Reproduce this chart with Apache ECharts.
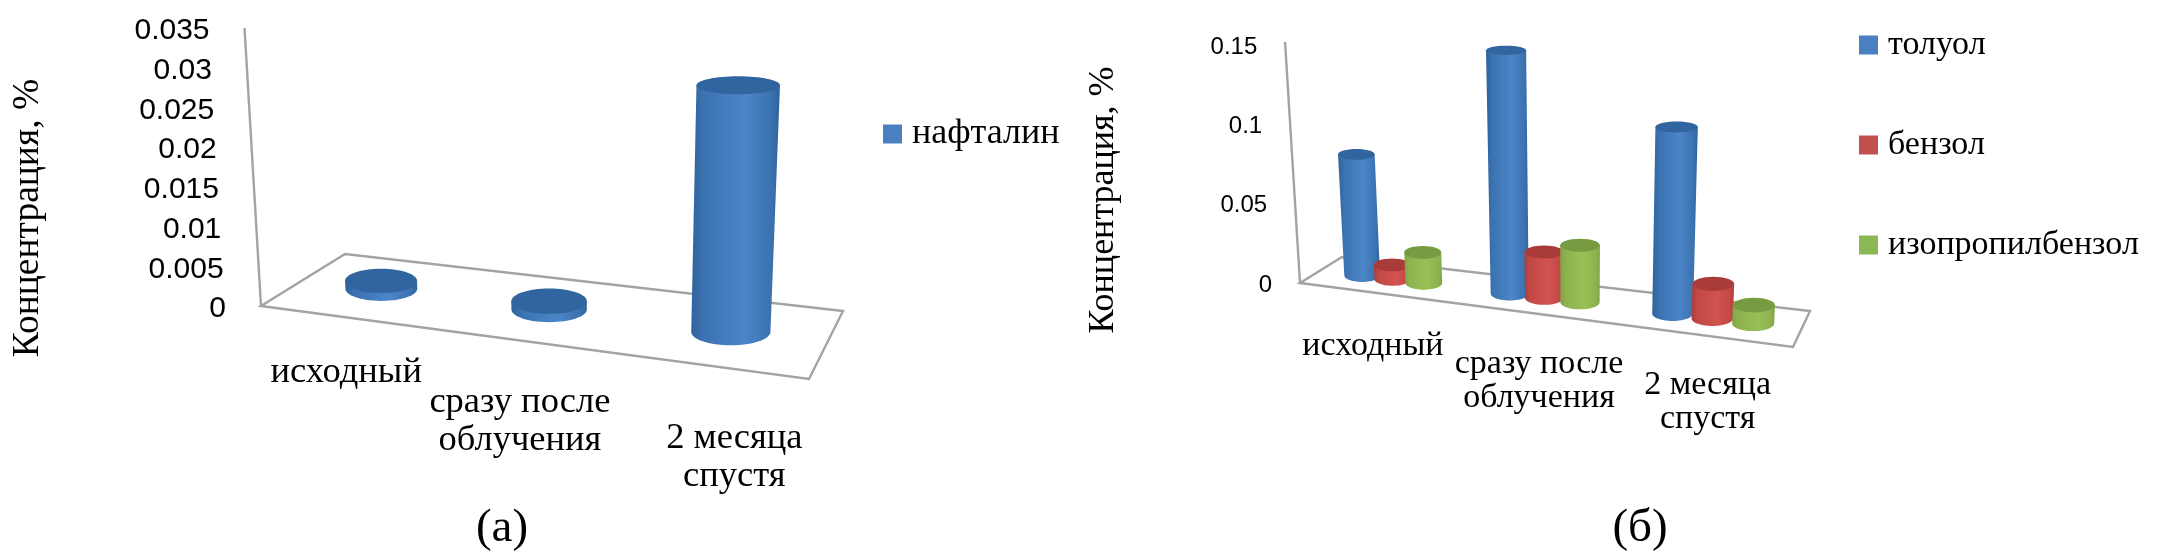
<!DOCTYPE html>
<html><head><meta charset="utf-8">
<script src="https://cdn.jsdelivr.net/npm/echarts@6/dist/echarts.min.js"></script>
<style>html,body{margin:0;padding:0;background:#fff}#c{width:2162px;height:560px}</style>
</head><body><div id="c"></div>
<script>
// ---------- data ----------
const categoriesA = ['исходный', 'сразу после\nоблучения', '2 месяца\nспустя'];
const categoriesB = ['исходный', 'сразу после\nоблучения', '2 месяца\nспустя'];
const naphthalene = [0.001, 0.001, 0.029];
const toluene = [0.077, 0.145, 0.104];
const benzene = [0.009, 0.027, 0.019];
const cumene = [0.019, 0.033, 0.01];
const ticksA = ['0', '0.005', '0.01', '0.015', '0.02', '0.025', '0.03', '0.035'];
const ticksB = ['0', '0.05', '0.1', '0.15'];
const axisTitle = 'Концентрация, %';

// ---------- geometry helpers ----------
function homography(p) {
  const [p0, p1, p2, p3] = p;
  const dx1 = p1[0] - p2[0], dx2 = p3[0] - p2[0], sx = p0[0] - p1[0] + p2[0] - p3[0];
  const dy1 = p1[1] - p2[1], dy2 = p3[1] - p2[1], sy = p0[1] - p1[1] + p2[1] - p3[1];
  const den = dx1 * dy2 - dx2 * dy1;
  const g = (sx * dy2 - dx2 * sy) / den, h = (dx1 * sy - sx * dy1) / den;
  const a = p1[0] - p0[0] + g * p1[0], b = p3[0] - p0[0] + h * p3[0];
  const d = p1[1] - p0[1] + g * p1[1], e = p3[1] - p0[1] + h * p3[1];
  return (u, v) => {
    const w = g * u + h * v + 1;
    return { x: (a * u + b * v + p0[0]) / w, y: (d * u + e * v + p0[1]) / w, s: 1 / w };
  };
}
const SERIF = '"Liberation Serif","Times New Roman",serif';
const SANS = '"Liberation Sans",Arial,sans-serif';

const scenes = [
  { quad: [[261,306],[809,379],[843,311],[345,254]], vx: 573, k: 0.00019, r: 37, gap: 0, depth: 0.49, ratio: 0.34,
    nudge: [0, 0.005, 0.004],
    tickFont: '30px ' + SANS, tickOff: -35, tickDy: 3, catFont: '36.5px ' + SERIF, lh: 38,
    catOff: [[5, 56], [6, 82], [29, 92]], top: 28, bottom: 306, axisTop: 0 },
  { quad: [[1300,283],[1793,347],[1810,311],[1342,257]], vx: 1577, k: 0.000224, r: 18, gap: 0.22, depth: 0.47, ratio: 0.36,
    nudge: [0.011, 0.016, 0.01],
    tickFont: '24px ' + SANS, tickOff: -28, tickDy: 1, catFont: '34px ' + SERIF, lh: 34,
    catOff: [[4, 54], [18, 69], [12, 68]], top: 46, bottom: 284, axisTop: 4 }
];
scenes.forEach(s => s.h = homography(s.quad));

function basePoint(scene, cat, idx, count) {
  const u = (cat + 0.5 + (idx - (count - 1) / 2) * scene.gap) / 3 + scene.nudge[cat];
  return scene.h(u, scene.depth);
}

function cylinder(scene, api, cat, idx, count, val, pal) {
  const base = basePoint(scene, cat, idx, count);
  const rawH = api.coord([cat, 0])[1] - api.coord([cat, val])[1];
  const hgt = rawH * base.s;
  const rxB = scene.r * base.s, ryB = rxB * scene.ratio;
  const rxT = rxB * (1 + hgt * 0.00022), ryT = ryB * (1 - hgt * 0.00135);
  const xT = base.x + (base.x - scene.vx) * scene.k * hgt, yT = base.y - hgt;
  const pts = [[xT - rxT, yT], [xT + rxT, yT]];
  for (let i = 0; i <= 28; i++) {
    const t = i / 28 * Math.PI;
    pts.push([base.x + rxB * Math.cos(t), base.y + ryB * Math.sin(t)]);
  }
  const body = { type: 'linear', x: 0, y: 0, x2: 1, y2: 0, colorStops: [
    { offset: 0, color: pal.edge }, { offset: 0.14, color: pal.dark }, { offset: 0.6, color: pal.mid },
    { offset: 0.9, color: pal.dark }, { offset: 1, color: pal.edge } ] };
  return { type: 'group', children: [
    { type: 'polygon', shape: { points: pts }, style: { fill: body } },
    { type: 'ellipse', shape: { cx: xT, cy: yT, rx: rxT, ry: ryT }, style: { fill: pal.top } }
  ] };
}

const palBlue = { edge: '#30639b', dark: '#3b72b0', mid: '#4c86c8', top: '#30659f' };
const palRed = { edge: '#aa3e3b', dark: '#c24946', mid: '#d2534f', top: '#a93c39' };
const palGreen = { edge: '#80a447', dark: '#8db24f', mid: '#98c057', top: '#779b40' };

function barSeries(name, values, scene, gi, idx, count, pal) {
  return {
    name, type: 'custom', coordinateSystem: 'cartesian2d', xAxisIndex: gi, yAxisIndex: gi, clip: false,
    itemStyle: { color: pal === palBlue ? '#4a80c0' : pal === palRed ? '#c0504d' : '#8cb755' },
    encode: { x: 0, y: 1 }, silent: true,
    data: values.map((v, i) => [i, v]),
    renderItem: (p, api) => cylinder(scene, api, api.value(0), idx, count, api.value(1), pal)
  };
}

function frameSeries(scene, gi, maxV) {
  return {
    type: 'custom', xAxisIndex: gi, yAxisIndex: gi, clip: false, silent: true, encode: { x: 0, y: 1 },
    data: [[0, 0]],
    renderItem: (p, api) => {
      const q = scene.quad, f = q[0];
      const yTop = api.coord([0, maxV])[1] - scene.axisTop;
      const h = f[1] - yTop;
      const line = { stroke: '#a3a3a3', lineWidth: 2.4, fill: null };
      return { type: 'group', children: [
        { type: 'polygon', shape: { points: q }, style: line },
        { type: 'line', shape: { x1: f[0], y1: f[1], x2: f[0] + (f[0] - scene.vx) * scene.k * h, y2: yTop }, style: line }
      ] };
    }
  };
}

function tickSeries(scene, gi, labels) {
  return {
    type: 'custom', xAxisIndex: gi, yAxisIndex: gi, clip: false, silent: true, encode: { x: 0, y: 1 },
    data: labels.map(t => [0, Number(t)]),
    renderItem: (p, api) => {
      const f = scene.quad[0];
      const y = api.coord([0, api.value(1)])[1];
      const h = f[1] - y;
      return { type: 'text', style: {
        text: labels[p.dataIndex], x: f[0] + (f[0] - scene.vx) * scene.k * h + scene.tickOff, y: y + scene.tickDy,
        font: scene.tickFont, fill: '#000', align: 'right', verticalAlign: 'middle' } };
    }
  };
}

function catSeries(scene, gi, cats) {
  return {
    type: 'custom', xAxisIndex: gi, yAxisIndex: gi, clip: false, silent: true, encode: { x: 0, y: 1 },
    data: cats.map((c, i) => [i, 0]),
    renderItem: (p, api) => {
      const i = api.value(0);
      const pt = scene.h((i + 0.5) / 3, 0), off = scene.catOff[i];
      return { type: 'text', style: {
        text: cats[i], x: pt.x + off[0], y: pt.y + off[1], font: scene.catFont, lineHeight: scene.lh,
        fill: '#000', align: 'center', verticalAlign: 'middle' } };
    }
  };
}

const hiddenX = (cats, gi) => ({ type: 'category', data: cats, gridIndex: gi, show: false });
const hiddenY = (max, gi) => ({ type: 'value', min: 0, max, gridIndex: gi, show: false });
const caption = (text, x, y) => ({ type: 'text', style: { text, x, y, font: '47px ' + SERIF, fill: '#000', align: 'center', verticalAlign: 'middle' } });
const yTitle = (x, y, size) => ({ type: 'text', x, y, rotation: Math.PI / 2, style: { text: axisTitle, x: 0, y: 0, font: size + 'px ' + SERIF, fill: '#000', align: 'center', verticalAlign: 'middle' } });

const legendBase = { orient: 'vertical', icon: 'rect', itemWidth: 19, itemHeight: 19, selectedMode: false };
const legendText = (size) => ({ fontFamily: SERIF, fontSize: size, lineHeight: 32, color: '#000', padding: [0, 0, 0, 5] });

const option = {
  animation: false, backgroundColor: '#fff',
  grid: [
    { left: 261, width: 560, top: scenes[0].top, height: scenes[0].bottom - scenes[0].top },
    { left: 1300, width: 490, top: scenes[1].top, height: scenes[1].bottom - scenes[1].top }
  ],
  xAxis: [hiddenX(categoriesA, 0), hiddenX(categoriesB, 1)],
  yAxis: [hiddenY(0.035, 0), hiddenY(0.15, 1)],
  legend: [
    Object.assign({}, legendBase, { data: ['нафталин'], left: 878, top: 111, textStyle: legendText(36) }),
    Object.assign({}, legendBase, { data: ['толуол', 'бензол', 'изопропилбензол'], left: 1854, top: 23, itemGap: 66, textStyle: legendText(34) })
  ],
  series: [
    frameSeries(scenes[0], 0, 0.035), tickSeries(scenes[0], 0, ticksA), catSeries(scenes[0], 0, categoriesA),
    barSeries('нафталин', naphthalene, scenes[0], 0, 0, 1, palBlue),
    frameSeries(scenes[1], 1, 0.15), tickSeries(scenes[1], 1, ticksB), catSeries(scenes[1], 1, categoriesB),
    barSeries('толуол', toluene, scenes[1], 1, 0, 3, palBlue),
    barSeries('бензол', benzene, scenes[1], 1, 1, 3, palRed),
    barSeries('изопропилбензол', cumene, scenes[1], 1, 2, 3, palGreen)
  ],
  graphic: { elements: [ caption('(а)', 502, 529), caption('(б)', 1640, 529), yTitle(28, 218, 37.5), yTitle(1104, 200, 36) ] }
};
echarts.init(document.getElementById('c'), null, { renderer: 'canvas' }).setOption(option);
</script></body></html>
